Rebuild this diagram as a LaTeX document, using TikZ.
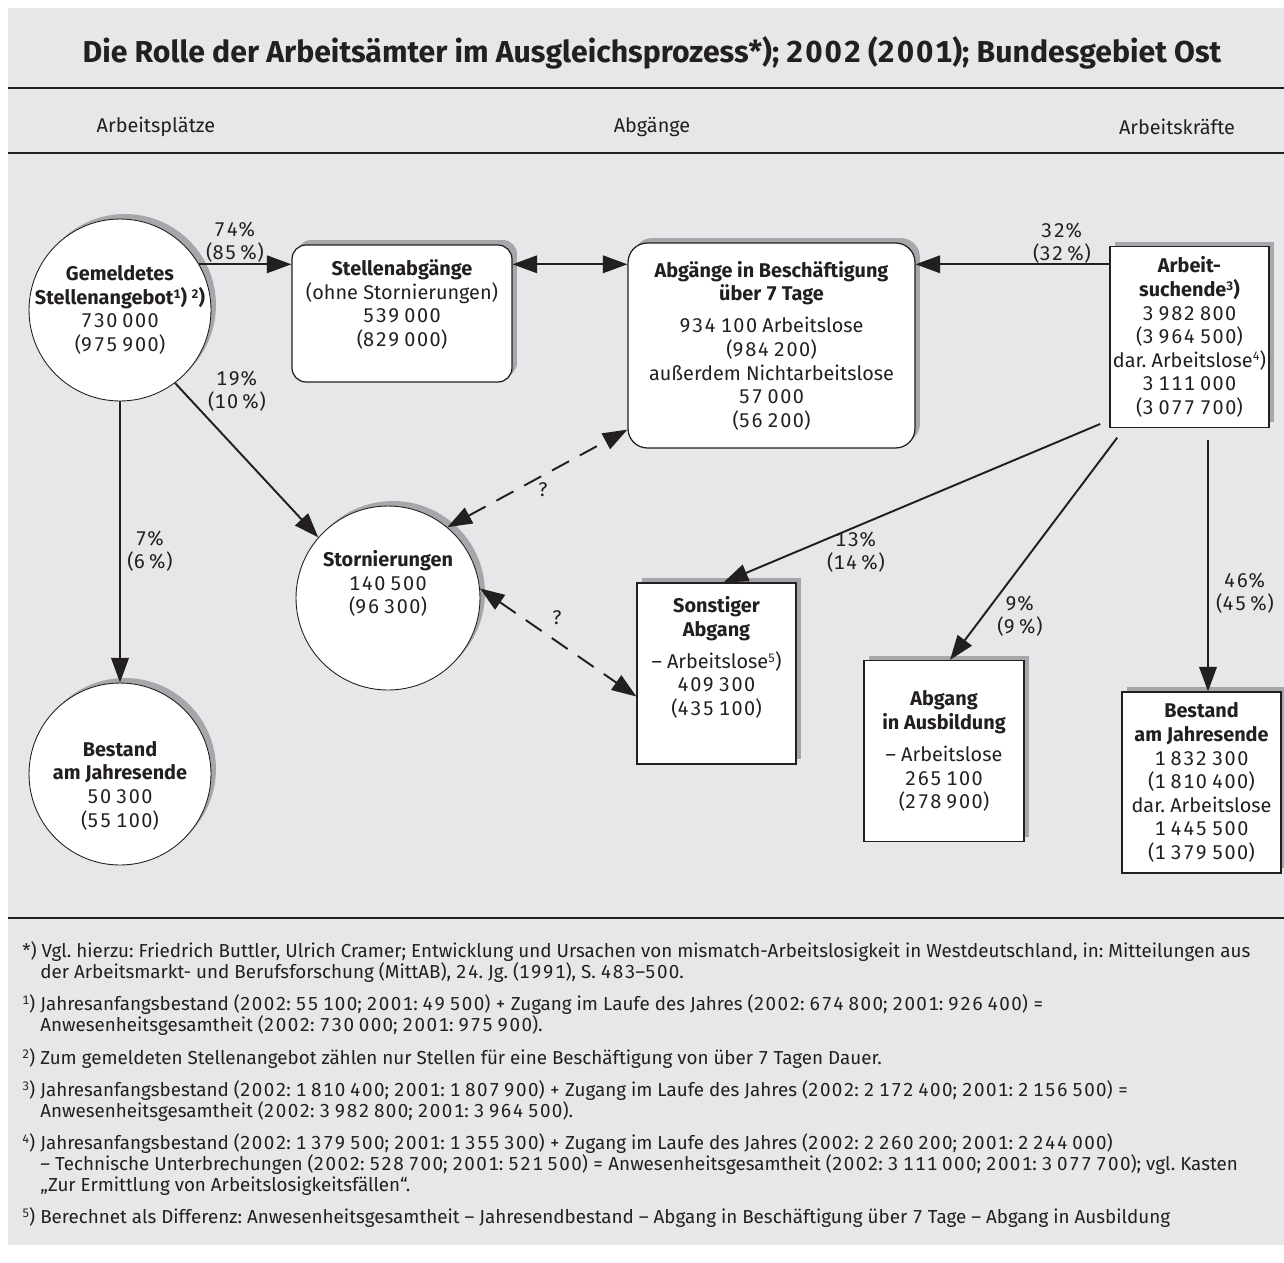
\documentclass[tikz,border=0pt]{standalone}
\usepackage{fontspec}
\setmainfont{Fira Sans}[Numbers=Monospaced]
\usetikzlibrary{arrows.meta,shadows,positioning}
\frenchspacing

% etwas breitere Ziffern
\XeTeXinterchartokenstate=1
\newXeTeXintercharclass\ziffern
\XeTeXcharclass`0=\ziffern \XeTeXcharclass`1=\ziffern \XeTeXcharclass`2=\ziffern
\XeTeXcharclass`3=\ziffern \XeTeXcharclass`4=\ziffern \XeTeXcharclass`5=\ziffern
\XeTeXcharclass`6=\ziffern \XeTeXcharclass`7=\ziffern \XeTeXcharclass`8=\ziffern
\XeTeXcharclass`9=\ziffern
\XeTeXinterchartoks\ziffern\ziffern={\kern0.075em}

\definecolor{panelgrau}{HTML}{E6E7E8}
\definecolor{schatten}{HTML}{A5A7AA}
\definecolor{tinte}{HTML}{231F20}
\newcommand{\tz}{\hspace{0.25em}}
\newcommand{\hoch}[1]{\raisebox{0.6ex}{\fontsize{7}{7}\selectfont#1}}

\begin{document}
\begin{tikzpicture}[x=0.02cm, y=-0.02cm,
    every node/.style={text=tinte, font=\fontsize{11.3}{13.4}\selectfont},
    schatt/.style={drop shadow={shadow xshift=0.1cm, shadow yshift=0.1cm, fill=schatten, opacity=1}},
    kreis/.style={circle, draw=tinte, line width=0.5pt, fill=white, minimum size=3.64cm,
                  inner sep=-12pt, align=center, schatt},
    karte/.style={draw=tinte, line width=0.7pt, fill=white, inner xsep=0pt, align=center, schatt},
    blatt/.style={draw=tinte, line width=0.7pt, fill=white, minimum width=3.18cm,
                  minimum height=3.62cm, inner xsep=0pt, align=center, schatt},
    pct/.style={align=center},
    arr/.style={-{Triangle[length=14pt,width=10pt]}, line width=1.1pt, tinte},
    arr2/.style={{Triangle[length=14pt,width=10pt]}-{Triangle[length=14pt,width=10pt]}, line width=1.1pt, tinte},
    strich/.style={arr2, dash pattern=on 11pt off 7pt},
    linie/.style={line width=1.2pt, tinte},
    fn/.style={anchor=base west, inner sep=0pt, font=\fontsize{10.7}{12}\selectfont}
  ]
  \useasboundingbox (0,0) rectangle (1284,1262);
  \fill[panelgrau] (8,8) rectangle (1284,1245);

  % Kopf
  \node[font=\fontsize{17.2}{20}\selectfont\bfseries] (titel) at (652,53)
    {Die Rolle der Arbeitsämter im Ausgleichsprozess*); 2002 (2001); Bundesgebiet Ost};
  \draw[linie] (8,88) -- (1284,88);
  \node (kopfL) at (156,127) {Arbeitsplätze};
  \node (kopfM) at (652,127) {Abgänge};
  \node (kopfR) at (1177,127) {Arbeitskräfte};
  \draw[linie] (8,153) -- (1284,153);

  % Knoten
  \node[kreis] (gemeldet) at (120,310)
    {\textbf{Gemeldetes}\\ \textbf{Stellenangebot\hoch{1}) \hoch{2})}\\ 730\tz000\\ (975\tz900)};
  \node[karte, rounded corners=8pt, minimum width=4.4cm, minimum height=2.74cm, text depth=12pt] (stellab) at (402,313.5)
    {\textbf{Stellenabgänge}\\ (ohne Stornierungen)\\ 539\tz000\\ (829\tz000)};
  \node[karte, rounded corners=11pt, minimum width=5.74cm, minimum height=4.1cm] (beschaeft) at (771.5,345.5)
    {\textbf{Abgänge in Beschäftigung}\\ \textbf{über 7 Tage}\\[5pt] 934\tz100 Arbeitslose\\ (984\tz200)\\
     außerdem Nichtarbeitslose\\ 57\tz000\\ (56\tz200)};
  \node[blatt] (suchende) at (1189.5,337)
    {\textbf{Arbeit-}\\ \textbf{suchende\hoch{3})}\\ 3\tz982\tz800\\ (3\tz964\tz500)\\
     dar. Arbeitslose\hoch{4})\\ 3\tz111\tz000\\ (3\tz077\tz700)};
  \node[kreis, minimum size=3.68cm, text depth=18pt] (storno) at (388,598)
    {\textbf{Stornierungen}\\ 140\tz500\\ (96\tz300)};
  \node[blatt, text depth=20pt] (sonst) at (716.5,673.5)
    {\textbf{Sonstiger}\\ \textbf{Abgang}\\[5pt] -- Arbeitslose\hoch{5})\\ 409\tz300\\ (435\tz100)};
  \node[blatt, minimum width=3.2cm] (ausbild) at (944,751)
    {\textbf{Abgang}\\ \textbf{in Ausbildung}\\[5pt] -- Arbeitslose\\ 265\tz100\\ (278\tz900)};
  \node[blatt] (bestandR) at (1201.5,782.5)
    {\textbf{Bestand}\\ \textbf{am Jahresende}\\ 1\tz832\tz300\\ (1\tz810\tz400)\\
     dar. Arbeitslose\\ 1\tz445\tz500\\ (1\tz379\tz500)};
  \node[kreis, text height=62pt] (bestandL) at (120,774)
    {\textbf{Bestand}\\ \textbf{am Jahresende}\\ 50\tz300\\ (55\tz100)};

  % Pfeile
  \draw[arr] (gemeldet.30) -- (gemeldet.30 -| stellab.west);
  \draw[arr2] (stellab.east |- gemeldet.30) -- (beschaeft.west |- gemeldet.30);
  \draw[arr] (suchende.west |- gemeldet.30) -- (beschaeft.east |- gemeldet.30);
  \draw[arr] (gemeldet.-53) -- (storno.139);
  \draw[arr] (gemeldet.south) -- (bestandL.north);
  \draw[strich] (storno.50) -- ([yshift=0.38cm]beschaeft.south west);
  \draw[strich] (storno.6) -- ([yshift=-0.46cm]sonst.west);
  \draw[arr, shorten <=0.2cm] ([yshift=0.16cm]suchende.south west) -- ([xshift=0.14cm]sonst.north);
  \draw[arr, shorten <=0.24cm] ([xshift=0.3cm]suchende.south west) -- ([xshift=0.12cm]ausbild.north);
  \draw[arr, shorten <=0.24cm] ([xshift=0.13cm]bestandR.north |- suchende.south) -- ([xshift=0.13cm]bestandR.north);

  % Anteile
  \node[pct] (p74) at (235,242) {74\%\\ (85\,\%)};
  \node[pct] (p19) at (237,391) {19\%\\ (10\,\%)};
  \node[pct] (p7) at (150,551) {7\%\\ (6\,\%)};
  \node[pct] (p32) at (1062,243) {32\%\\ (32\,\%)};
  \node[pct] (p13) at (856,552) {13\%\\ (14\,\%)};
  \node[pct] (p9) at (1020,616) {9\%\\ (9\,\%)};
  \node[pct] (p46) at (1245,593) {46\%\\ (45\,\%)};
  \node (frage1) at (543,490) {?};
  \node (frage2) at (557,618) {?};

  % Fussnoten
  \draw[linie] (8,918) -- (1284,918);
  \node[fn] (fn0a) at (22,957) {*) Vgl. hierzu: Friedrich Buttler, Ulrich Cramer; Entwicklung und Ursachen von mismatch-Arbeitslosigkeit in Westdeutschland, in: Mitteilungen aus};
  \node[fn] (fn0b) at (40,978) {der Arbeitsmarkt- und Berufsforschung (MittAB), 24. Jg. (1991), S. 483--500.};
  \node[fn] (fn1a) at (22,1010) {\hoch{1}) Jahresanfangsbestand (2002: 55\tz100; 2001: 49\tz500) + Zugang im Laufe des Jahres (2002: 674\tz800; 2001: 926\tz400) =};
  \node[fn] (fn1b) at (40,1031) {Anwesenheitsgesamtheit (2002: 730\tz000; 2001: 975\tz900).};
  \node[fn] (fn2) at (22,1064) {\hoch{2}) Zum gemeldeten Stellenangebot zählen nur Stellen für eine Beschäftigung von über 7 Tagen Dauer.};
  \node[fn] (fn3a) at (22,1096) {\hoch{3}) Jahresanfangsbestand (2002: 1\tz810\tz400; 2001: 1\tz807\tz900) + Zugang im Laufe des Jahres (2002: 2\tz172\tz400; 2001: 2\tz156\tz500) =};
  \node[fn] (fn3b) at (40,1117) {Anwesenheitsgesamtheit (2002: 3\tz982\tz800; 2001: 3\tz964\tz500).};
  \node[fn] (fn4a) at (22,1149) {\hoch{4}) Jahresanfangsbestand (2002: 1\tz379\tz500; 2001: 1\tz355\tz300) + Zugang im Laufe des Jahres (2002: 2\tz260\tz200; 2001: 2\tz244\tz000)};
  \node[fn] (fn4b) at (40,1170) {-- Technische Unterbrechungen (2002: 528\tz700; 2001: 521\tz500) = Anwesenheitsgesamtheit (2002: 3\tz111\tz000; 2001: 3\tz077\tz700); vgl. Kasten};
  \node[fn] (fn4c) at (40,1191) {„Zur Ermittlung von Arbeitslosigkeitsfällen“.};
  \node[fn] (fn5) at (22,1223) {\hoch{5}) Berechnet als Differenz: Anwesenheitsgesamtheit -- Jahresendbestand -- Abgang in Beschäftigung über 7 Tage -- Abgang in Ausbildung};
\end{tikzpicture}
\end{document}
